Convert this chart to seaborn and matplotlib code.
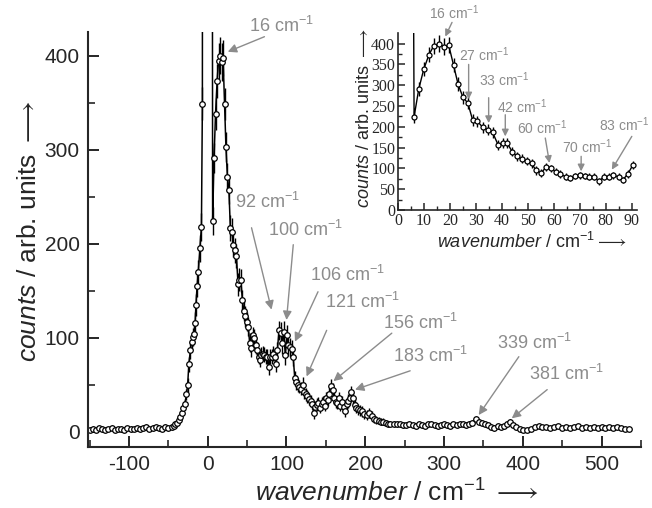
import numpy as np
import matplotlib
matplotlib.use("Agg")
import matplotlib.pyplot as plt
import seaborn as sns

# ---- data ----
# left baseline and rising flank of the elastic line
left_x = [-150, -146, -142, -138, -134, -130, -126, -122, -118, -114,
          -110, -106, -102, -98, -94, -90, -86, -82, -78, -74,
          -70, -66, -62, -58, -54, -50, -46]
left_y = [2, 3, 2, 4, 3, 2, 3, 4, 2, 3,
          3, 2, 4, 3, 3, 4, 3, 4, 5, 3,
          4, 5, 4, 3, 5, 4, 5]
left_err = [2, 3, 2, 2, 3, 2, 2, 3, 2, 2,
            3, 2, 2, 3, 2, 2, 3, 2, 3, 2,
            3, 2, 3, 2, 3, 3, 3]

rise_x = [-43, -41, -39, -37, -35, -33, -31, -29, -27, -25.5,
          -24, -22, -20.5, -19, -17.5, -16, -15, -13.5, -12, -10,
          -8, -6.8, -5.5, -4, -2, 0, 2, 4]
rise_y = [6, 8, 10, 13, 16, 20, 25, 30, 40, 50,
          72, 87, 96, 101, 104, 116, 135, 155, 170, 195,
          218, 349, 2500, 4000, 5000, 5000, 4000, 2500]
rise_err = [3, 3, 3, 4, 4, 4, 5, 5, 6, 7,
            8, 9, 9, 10, 10, 11, 12, 12, 13, 14,
            15, 18, 50, 60, 70, 70, 60, 50]

# low-frequency part (also shown in the inset)
low_x = [6.2, 8.0, 9.9, 11.9, 13.7, 15.8, 17.7, 19.5, 21.4, 23.1,
         25.0, 26.9, 28.7, 30.6, 32.6, 34.5, 36.4, 38.5, 40.3, 42.0,
         44.0, 45.8, 47.7, 49.5, 51.4, 53.2, 55.1, 57.0, 58.8, 60.8,
         62.4, 64.5, 66.3, 68.2, 70.1, 71.8, 73.7, 75.5, 77.4, 79.2,
         81.2, 82.9, 84.9, 86.5, 88.5, 90.4]
low_y = [224, 291, 338, 373, 394, 400, 393, 397, 348, 303,
         271, 257, 217, 213, 199, 193, 187, 157, 162, 161,
         140, 129, 123, 117, 112, 95, 89, 103, 100, 92,
         87, 80, 77, 82, 83, 82, 80, 80, 69, 80,
         80, 83, 80, 72, 87, 108]
low_err = [15, 16, 17, 18, 19, 20, 20, 19, 17, 16,
           15, 15, 14, 14, 13, 13, 13, 12, 12, 12,
           11, 11, 11, 10, 10, 10, 9, 9, 9, 9,
           9, 8, 8, 8, 8, 8, 8, 8, 8, 8,
           8, 8, 8, 8, 9, 10]

mid_x = [92.5, 94.5, 96.5, 98.5, 100.5, 102.5, 104.5, 106.5, 108.5, 110.5,
         112.5, 114.5, 116.5, 118.5, 120.5, 122.5, 124.5, 126.5, 128.5, 130.5,
         132.5, 134.5, 136.5, 138.5, 140.5, 142.5, 144.5, 146.5, 148.5, 150.5,
         152.5, 154.5, 156.5, 158.5, 160.5, 162.5, 164.5, 166.5, 168.5, 170.5,
         172.5, 174.5, 176.5, 178.5, 180.5, 182.5, 184.5, 186.5, 188.5, 190.5]
mid_y = [105, 95, 106, 82, 103, 92, 90, 88, 80, 57,
         53, 50, 48, 46, 50, 42, 40, 38, 35, 33,
         30, 20, 27, 29, 31, 26, 30, 32, 28, 36,
         34, 40, 49, 45, 36, 32, 31, 36, 28, 32,
         27, 22, 30, 33, 36, 42, 36, 29, 26, 24]
mid_err = [12, 12, 12, 11, 11, 11, 10, 10, 10, 8,
           8, 7, 7, 7, 8, 7, 7, 7, 6, 6,
           6, 6, 6, 7, 6, 6, 7, 6, 6, 7,
           6, 7, 7, 7, 6, 6, 7, 6, 6, 6,
           6, 6, 6, 7, 7, 7, 6, 6, 6, 6]

tail_x = [193, 196, 199, 202, 205, 208, 211, 214, 217, 220,
          223, 226, 229, 232, 236, 240, 244, 248, 252, 256,
          260, 264, 268, 272, 276, 280, 284, 288, 292, 296,
          300, 304, 308, 312, 316, 320, 324, 328, 332, 336,
          340, 344, 348, 352, 356, 360, 364, 368, 372, 376,
          380, 384, 388, 392, 396, 400, 405, 410, 415, 420,
          425, 430, 435, 440, 445, 450, 455, 460, 465, 470,
          475, 480, 485, 490, 495, 500, 505, 510, 515, 520,
          525, 530, 535]
tail_y = [23, 22, 19, 18, 20, 17, 14, 13, 12, 11,
          11, 10, 9, 9, 9, 8, 8, 7, 7, 8,
          7, 6, 8, 7, 6, 8, 9, 7, 6, 7,
          8, 7, 6, 8, 7, 9, 8, 7, 9, 10,
          14, 11, 10, 9, 7, 5, 4, 6, 5, 6,
          9, 11, 7, 5, 3, 2, 2, 3, 5, 6,
          5, 5, 4, 5, 6, 4, 5, 4, 5, 6,
          4, 5, 4, 5, 4, 5, 4, 5, 4, 5,
          4, 3, 3]
tail_err = [6, 6, 5, 5, 5, 5, 4, 4, 4, 4,
            4, 3, 3, 3, 3, 3, 3, 3, 3, 3,
            3, 3, 3, 3, 3, 3, 3, 3, 3, 3,
            3, 3, 3, 3, 3, 3, 3, 3, 3, 3,
            3, 3, 3, 3, 3, 3, 3, 3, 3, 3,
            3, 3, 3, 3, 2, 2, 2, 2, 2, 2,
            2, 2, 2, 2, 2, 2, 2, 2, 2, 2,
            2, 2, 2, 2, 2, 2, 2, 2, 2, 2,
            2, 2, 2]

main_peaks = ['16', '92', '100', '106', '121', '156', '183', '339', '381']
inset_peaks = ['16', '27', '33', '42', '60', '70', '83']

# annotation geometry (data coords): text anchor, arrow tail, arrow tip
main_text_xy = [(53, 431), (34, 244), (76, 215), (130, 167), (149, 138),
                (223, 116), (235.5, 81), (367.5, 95), (408, 62)]
main_tail = [(72, 420), (55.6, 217), (108.6, 199), (140, 149), (151, 108),
             (233.7, 105), (257, 65), (395, 80), (431, 45)]
main_tip = [(25.4, 404), (81, 130), (100, 119), (110.7, 96), (125.5, 59),
            (159.5, 54), (187, 45), (344, 18), (386, 14.5)]

inset_text_xy = [(11.8, 475), (23.3, 374), (31, 314), (38, 249.5),
                 (46, 199), (63, 153), (77.5, 205)]
inset_tail = [(20.8, 451), (27.2, 350), (34.9, 270), (41.3, 229),
              (56.7, 173), (70.5, 129), (90, 177)]
inset_tip = [(18.2, 417), (27.2, 266), (34.9, 209), (41.3, 177),
             (58.3, 113), (70.5, 93), (82.3, 97)]

# ---- style ----
sns.set_style("ticks")
plt.rcParams['font.family'] = ['Liberation Sans', 'DejaVu Sans']
plt.rcParams['mathtext.fontset'] = 'custom'
plt.rcParams['mathtext.rm'] = 'Liberation Sans'
plt.rcParams['mathtext.it'] = 'Liberation Sans:italic'
plt.rcParams['mathtext.fallback'] = 'stixsans'
plt.rcParams['axes.unicode_minus'] = False
plt.rcParams['xtick.direction'] = 'in'
plt.rcParams['ytick.direction'] = 'in'
grey = '#8c8c8c'

main_x = left_x + rise_x + low_x + mid_x + tail_x
main_y = left_y + rise_y + low_y + mid_y + tail_y
main_err = left_err + rise_err + low_err + mid_err + tail_err

fig = plt.figure(figsize=(6.52, 5.08), dpi=100)
ax = fig.add_axes([0.135, 0.12, 0.848, 0.817])

ax.errorbar(main_x, main_y, yerr=main_err, fmt='none', ecolor='k',
            elinewidth=1.0, capsize=0, zorder=1.5)
sns.lineplot(x=main_x, y=main_y, ax=ax, color='k', lw=1.1, marker='o',
             markersize=4.0, markerfacecolor='white', markeredgecolor='k',
             markeredgewidth=0.9, zorder=2)

ax.set_xlim(-152, 550)
ax.set_ylim(-16, 425)
ax.set_xticks([-100, 0, 100, 200, 300, 400, 500])
ax.set_xticks([-150, -50, 50, 150, 250, 350, 450, 550], minor=True)
ax.set_yticks([0, 100, 200, 300, 400])
ax.set_yticks([50, 150, 250, 350], minor=True)
sns.despine(ax=ax)
for s in ['left', 'bottom']:
    ax.spines[s].set_linewidth(1.5)
ax.tick_params(which='major', length=8, width=1.4, labelsize=15, pad=6)
ax.tick_params(which='minor', length=5, width=1.2)
ax.set_xlabel(r'$\mathit{wavenumber}$ / cm$^{-1}$ $\longrightarrow$', fontsize=19)
ax.set_ylabel(r'$\mathit{counts}$ / arb. units $\longrightarrow$', fontsize=19)
ax.xaxis.set_label_coords(0.559, -0.077)
ax.yaxis.set_label_coords(-0.085, 0.52)

for lab, (tx, ty), tail, tip in zip(main_peaks, main_text_xy, main_tail, main_tip):
    ax.text(tx, ty, lab + r' cm$^{-1}$', color=grey, fontsize=13,
            ha='left', va='center')
    ax.annotate('', xy=tip, xytext=tail,
                arrowprops=dict(arrowstyle='-|>', color=grey, lw=1.0,
                                mutation_scale=13, shrinkA=0, shrinkB=0))

# ---- inset ----
ins = fig.add_axes([0.6104, 0.5866, 0.3666, 0.348])
ins.patch.set_alpha(0)
ins_x = [4.5] + low_x
ins_y = [2500] + low_y
ins_err = [50] + low_err
ins.errorbar(ins_x, ins_y, yerr=ins_err, fmt='none', ecolor='k',
             elinewidth=1.0, capsize=0, zorder=1.5)
sns.lineplot(x=ins_x, y=ins_y, ax=ins, color='k', lw=1.0, marker='o',
             markersize=3.6, markerfacecolor='white', markeredgecolor='k',
             markeredgewidth=0.9, zorder=2)
ins.set_xlim(0, 92)
ins.set_ylim(0, 425)
ins.set_xticks(np.arange(0, 91, 10))
ins.set_xticks(np.arange(5, 91, 10), minor=True)
ins.set_yticks(np.arange(0, 401, 50))
ins.set_yticks(np.arange(25, 401, 50), minor=True)
sns.despine(ax=ins)
for s in ['left', 'bottom']:
    ins.spines[s].set_linewidth(1.2)
ins.tick_params(which='major', length=5, width=1.1, labelsize=11.5, pad=2,
                labelfontfamily='Liberation Serif')
ins.tick_params(which='minor', length=3, width=1.0)
ins.set_xlabel(r'$\mathit{wavenumber}$ / cm$^{-1}$$\longrightarrow$', fontsize=13)
ins.set_ylabel(r'$\mathit{counts}$ / arb. units $\longrightarrow$', fontsize=13)
ins.xaxis.set_label_coords(0.56, -0.125)
ins.yaxis.set_label_coords(-0.105, 0.52)

for lab, (tx, ty), tail, tip in zip(inset_peaks, inset_text_xy, inset_tail, inset_tip):
    ins.text(tx, ty, lab + r' cm$^{-1}$', color=grey, fontsize=10,
             ha='left', va='center')
    ins.annotate('', xy=tip, xytext=tail,
                 arrowprops=dict(arrowstyle='-|>', color=grey, lw=1.0,
                                 mutation_scale=10, shrinkA=0, shrinkB=0))

fig.savefig('out.png', dpi=100)
